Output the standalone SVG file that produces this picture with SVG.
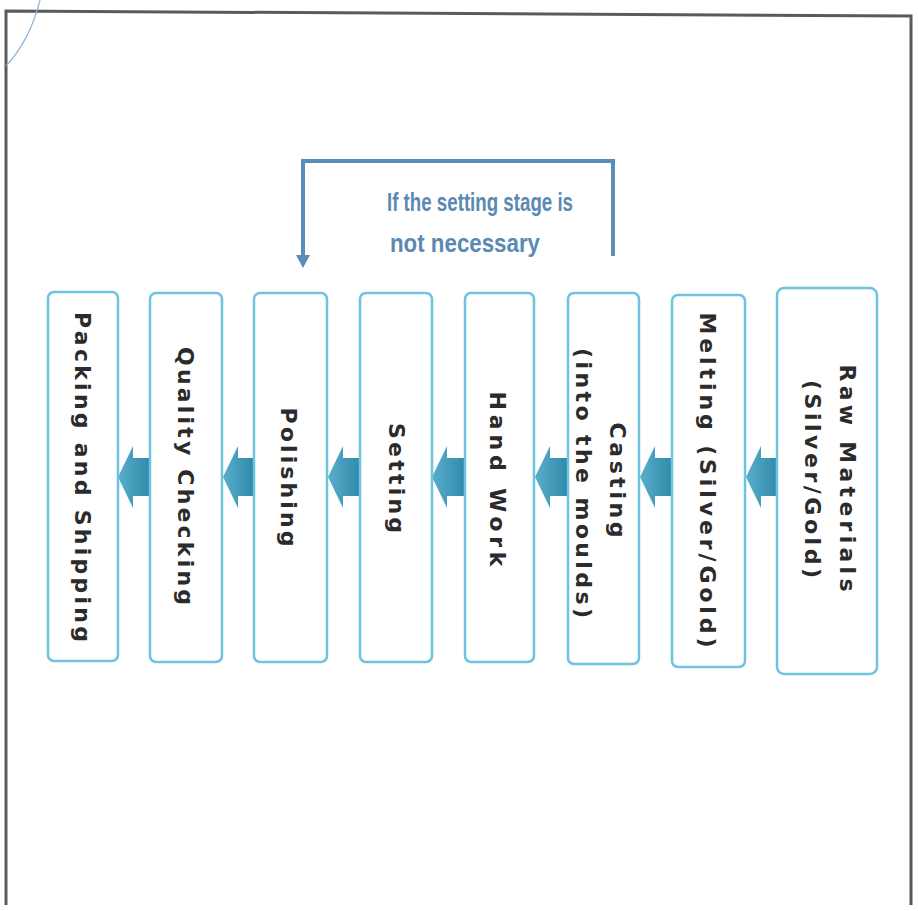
<svg xmlns="http://www.w3.org/2000/svg" width="918" height="911" viewBox="0 0 918 911">
<defs>
<style>
.box{fill:#fff;stroke:#6ec3de;stroke-width:2.5}
.lbl{font-family:"DejaVu Sans",sans-serif;font-weight:bold;font-size:22px;fill:#2b2b2b;text-anchor:middle;dominant-baseline:central}
.fb{font-family:"Liberation Sans",sans-serif;font-size:26px;fill:#5a89b3;font-weight:bold}
.arr{fill:url(#ag)}
.frame{stroke:#5a5a5a;stroke-width:3;fill:none}
</style>
<linearGradient id="ag" x1="0" y1="0" x2="1" y2="0">
<stop offset="0" stop-color="#5aaecb"/>
<stop offset="1" stop-color="#2f8aa9"/>
</linearGradient>
</defs>
<rect width="918" height="911" fill="#fff"/>
<path class="frame" d="M6,905 L6,11 L911,16 L911,905"/>
<path d="M40,0 Q30,40 6,66" fill="none" stroke="#8ab4d8" stroke-width="1.2"/>

<g id="connectors">
<path d="M613,256 L613,161 L303,161 L303,257" fill="none" stroke="#5b8db8" stroke-width="4"/>
<path d="M296,255 L310,255 L303,268 Z" fill="#5b8db8"/>
<text class="fb" x="480" y="211" text-anchor="middle" textLength="186" lengthAdjust="spacingAndGlyphs">If the setting stage is</text>
<text class="fb" x="465" y="252" text-anchor="middle" textLength="150" lengthAdjust="spacingAndGlyphs">not necessary</text>
<path class="arr" d="M118,477 L133,446 L133,458 L150,458 L150,496 L133,496 L133,508 Z"/>
<path class="arr" d="M223,477 L238,446 L238,458 L253,458 L253,496 L238,496 L238,508 Z"/>
<path class="arr" d="M328,477 L343,446 L343,458 L360,458 L360,496 L343,496 L343,508 Z"/>
<path class="arr" d="M432,477 L447,446 L447,458 L465,458 L465,496 L447,496 L447,508 Z"/>
<path class="arr" d="M535,477 L550,446 L550,458 L568,458 L568,496 L550,496 L550,508 Z"/>
<path class="arr" d="M640,477 L655,446 L655,458 L672,458 L672,496 L655,496 L655,508 Z"/>
<path class="arr" d="M746,477 L761,446 L761,458 L778,458 L778,496 L761,496 L761,508 Z"/>
</g>

<g id="packing">
<rect class="box" x="48" y="292" width="70" height="369" rx="6"/>
<text class="lbl" transform="translate(82,477) rotate(90)" textLength="330" lengthAdjust="spacing">Packing and Shipping</text>
</g>
<g id="quality">
<rect class="box" x="150" y="293" width="72" height="369" rx="6"/>
<text class="lbl" transform="translate(185,476) rotate(90)" textLength="258" lengthAdjust="spacing">Quality Checking</text>
</g>
<g id="polishing">
<rect class="box" x="254" y="293" width="73" height="369" rx="6"/>
<text class="lbl" transform="translate(288,477) rotate(90)" textLength="139" lengthAdjust="spacing">Polishing</text>
</g>
<g id="setting">
<rect class="box" x="360" y="293" width="72" height="369" rx="6"/>
<text class="lbl" transform="translate(396,478) rotate(90)" textLength="110" lengthAdjust="spacing">Setting</text>
</g>
<g id="handwork">
<rect class="box" x="465" y="293" width="69" height="369" rx="6"/>
<text class="lbl" transform="translate(497,479) rotate(90)" textLength="175" lengthAdjust="spacing">Hand Work</text>
</g>
<g id="casting">
<rect class="box" x="568" y="293" width="71" height="371" rx="6"/>
<text class="lbl" transform="translate(617,480) rotate(90)" textLength="115" lengthAdjust="spacing">Casting</text>
<text class="lbl" transform="translate(583,483) rotate(90)" textLength="270" lengthAdjust="spacing">(into the moulds)</text>
</g>
<g id="melting">
<rect class="box" x="672" y="295" width="73" height="372" rx="6"/>
<text class="lbl" transform="translate(707,480) rotate(90)" textLength="335" lengthAdjust="spacing">Melting (Silver/Gold)</text>
</g>
<g id="raw">
<rect class="box" x="777" y="288" width="100" height="386" rx="7"/>
<text class="lbl" transform="translate(847,478) rotate(90)" textLength="227" lengthAdjust="spacing">Raw Materials</text>
<text class="lbl" transform="translate(812,479) rotate(90)" textLength="198" lengthAdjust="spacing">(Silver/Gold)</text>
</g>
</svg>
